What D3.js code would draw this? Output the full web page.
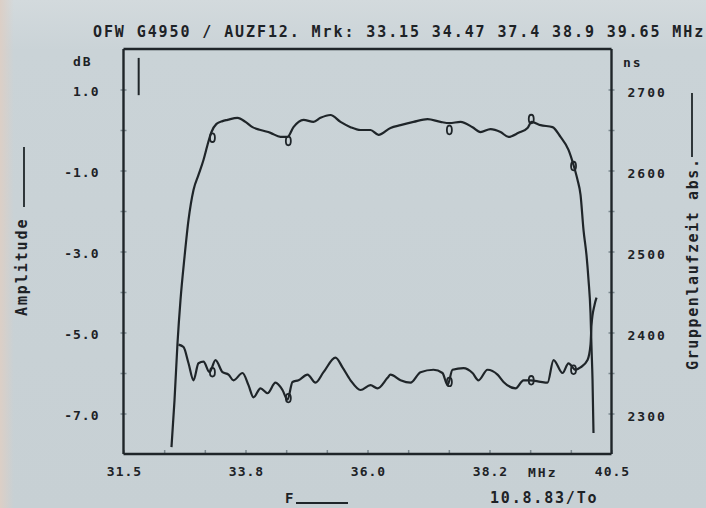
<!DOCTYPE html>
<html>
<head>
<meta charset="utf-8">
<script src="https://cdn.jsdelivr.net/npm/d3@7"></script>
<style>
  html, body { margin: 0; padding: 0; background: #cbd4d8; }
  svg { display: block; }
  text { font-family: "DejaVu Sans Mono", monospace; font-weight: bold; fill: #1d2226; }
</style>
</head>
<body>
<svg id="chart" width="706" height="508"></svg>
<script>
// ---- data ----
const titleText = "OFW G4950 / AUZF12. Mrk: 33.15 34.47 37.4 38.9 39.65 MHz";

const xTickValues = [31.5, 33.75, 36.0, 38.25, 40.5];
const xTickLabels = ["31.5", "33.8", "36.0", "38.2", "40.5"];
const xMinorTicks = [31.5, 32.25, 33.0, 33.75, 34.5, 35.25, 36.0, 36.75, 37.5, 38.25, 39.0, 39.75, 40.5];

const ampTickValues = [1, -1, -3, -5, -7];
const ampTickLabels = ["1.0", "-1.0", "-3.0", "-5.0", "-7.0"];
const ampMinorTicks = [1, 0, -1, -2, -3, -4, -5, -6, -7];

const gdTickValues = [2700, 2600, 2500, 2400, 2300];
const gdTickLabels = ["2700", "2600", "2500", "2400", "2300"];
const gdMinorTicks = [2700, 2650, 2600, 2550, 2500, 2450, 2400, 2350, 2300];

// amplitude response (MHz, dB)
const ampFreq = [32.385, 32.441, 32.496, 32.551, 32.625, 32.699, 32.791, 32.883, 32.975, 33.049,
  33.123, 33.215, 33.326, 33.418, 33.603, 33.750,
  33.879, 34.027, 34.211, 34.396, 34.525, 34.635, 34.820, 35.004, 35.133, 35.318,
  35.502, 35.687, 35.871, 36.055, 36.203, 36.424, 36.609, 36.849, 37.107, 37.346,
  37.513, 37.715, 37.937, 38.084, 38.269, 38.453, 38.601, 38.785, 38.951, 39.025,
  39.191, 39.412, 39.560, 39.707, 39.799, 39.873, 39.929, 39.984, 40.039, 40.076,
  40.113, 40.131, 40.150, 40.168];
const ampDb = [-7.83, -6.67, -5.26, -4.20, -3.14, -2.22, -1.48, -1.11, -0.74, -0.37,
  -0.05, 0.15, 0.22, 0.25, 0.30, 0.20,
  0.07, 0.00, -0.07, -0.17, -0.17, 0.07, 0.25, 0.20, 0.30, 0.37,
  0.20, 0.07, 0.00, 0.00, -0.12, 0.05, 0.12, 0.20, 0.27, 0.20,
  0.17, 0.20, 0.07, -0.05, 0.02, -0.05, -0.17, -0.07, 0.05, 0.20,
  0.12, 0.07, -0.17, -0.49, -0.86, -1.23, -1.60, -2.47, -3.09, -3.70,
  -4.52, -5.36, -6.17, -7.48];

// absolute group delay (MHz, ns)
const gdFreq = [32.514, 32.607, 32.699, 32.791, 32.883, 32.975, 33.086, 33.197, 33.326, 33.437,
  33.529, 33.695, 33.805, 33.898, 34.027, 34.156, 34.303, 34.432, 34.525, 34.617,
  34.728, 34.894, 35.041, 35.189, 35.410, 35.539, 35.687, 35.871, 36.055, 36.184,
  36.369, 36.424, 36.609, 36.793, 36.978, 37.217, 37.383, 37.476, 37.568, 37.771,
  37.937, 38.047, 38.213, 38.398, 38.509, 38.730, 38.877, 39.006, 39.191, 39.320,
  39.431, 39.597, 39.707, 39.836, 39.929, 40.058, 40.113, 40.131, 40.187, 40.224];
const gdNs = [2385, 2382, 2362, 2341, 2362, 2364, 2351, 2366, 2351, 2348,
  2341, 2350, 2335, 2320, 2331, 2325, 2338, 2329, 2317, 2339,
  2341, 2348, 2338, 2351, 2369, 2357, 2341, 2329, 2335, 2331,
  2344, 2348, 2341, 2338, 2351, 2354, 2350, 2335, 2354, 2356,
  2350, 2341, 2354, 2348, 2339, 2331, 2341, 2341, 2339, 2338,
  2366, 2350, 2362, 2354, 2357, 2366, 2385, 2409, 2434, 2443];

// frequency markers as drawn by the plotter
const markerFreq = [33.14, 34.54, 37.51, 39.02, 39.80];
const ampMarkerDb = [-0.19, -0.27, 0.0, 0.27, -0.89];
const gdMarkerNs = [2351, 2319, 2339, 2341, 2354];

// short pen mark at the top left of the plot
const penMarkFreq = [31.78, 31.78];
const penMarkDb = [1.78, 0.86];

// ---- drawing ----
const W = 706, H = 508;
const svg = d3.select("#chart");
const ink = "#1f2529";

const defs = svg.append("defs");
const grad = defs.append("linearGradient").attr("id", "paper")
  .attr("x1", "0").attr("y1", "0").attr("x2", "0").attr("y2", "1");
grad.append("stop").attr("offset", "0").attr("stop-color", "#d3dadd");
grad.append("stop").attr("offset", "0.1").attr("stop-color", "#cad3d7");
grad.append("stop").attr("offset", "1").attr("stop-color", "#c7d0d4");
svg.append("rect").attr("width", W).attr("height", H).attr("fill", "url(#paper)");
const gradL = defs.append("linearGradient").attr("id", "edge")
  .attr("x1", "0").attr("y1", "0").attr("x2", "1").attr("y2", "0");
gradL.append("stop").attr("offset", "0").attr("stop-color", "#dccfc6");
gradL.append("stop").attr("offset", "1").attr("stop-color", "#dccfc6").attr("stop-opacity", 0);
svg.append("rect").attr("width", 14).attr("height", H).attr("fill", "url(#edge)");

const x = d3.scaleLinear().domain([31.5, 40.5]).range([123.5, 611.5]);
const yAmp = d3.scaleLinear().domain([-8, 2]).range([454, 49]);
const yGd = d3.scaleLinear().domain([2250, 2750]).range([454, 49]);

const tickStroke = "#7d8a90";

// minor tick marks via d3 axes
const axL = svg.append("g").attr("transform", `translate(${x(31.5)},0)`)
  .call(d3.axisLeft(yAmp).tickValues(ampMinorTicks).tickSizeInner(-3).tickSizeOuter(0).tickFormat(""));
const axL2 = svg.append("g").attr("transform", `translate(${x(31.5)},0)`)
  .call(d3.axisLeft(yAmp).tickValues(ampMinorTicks).tickSizeInner(3).tickSizeOuter(0).tickFormat(""));
const axR = svg.append("g").attr("transform", `translate(${x(40.5)},0)`)
  .call(d3.axisRight(yGd).tickValues(gdMinorTicks).tickSizeInner(3).tickSizeOuter(0).tickFormat(""));
const axR2 = svg.append("g").attr("transform", `translate(${x(40.5)},0)`)
  .call(d3.axisRight(yGd).tickValues(gdMinorTicks).tickSizeInner(-3).tickSizeOuter(0).tickFormat(""));
const axB = svg.append("g").attr("transform", `translate(0,${yAmp(-8)})`)
  .call(d3.axisBottom(x).tickValues(xMinorTicks).tickSizeInner(-4).tickSizeOuter(0).tickFormat(""));
[axL, axL2, axR, axR2, axB].forEach(g => {
  g.select(".domain").remove();
  g.selectAll(".tick line").attr("stroke", tickStroke).attr("stroke-width", 1.5);
});

// frame
const frame = svg.append("g").attr("stroke", ink).attr("stroke-width", 2.4).attr("fill", "none");
frame.append("line").attr("x1", x(31.5)).attr("x2", x(31.5)).attr("y1", yAmp(2)).attr("y2", yAmp(-8));
frame.append("line").attr("x1", x(40.5)).attr("x2", x(40.5)).attr("y1", yAmp(2)).attr("y2", yAmp(-8));
frame.append("line").attr("x1", x(31.5)).attr("x2", x(40.5)).attr("y1", yAmp(2)).attr("y2", yAmp(2));
frame.append("line").attr("x1", x(31.5)).attr("x2", x(40.5)).attr("y1", yAmp(-8)).attr("y2", yAmp(-8));

// tick labels
const lbl = svg.append("g").style("font-size", "13px").style("letter-spacing", "1px");
lbl.selectAll(".al").data(ampTickValues).join("text")
  .attr("x", x(31.5) - 24).attr("y", d => yAmp(d) + 6)
  .attr("text-anchor", "end").text((d, i) => ampTickLabels[i]);
lbl.selectAll(".gl").data(gdTickValues).join("text")
  .attr("x", x(40.5) + 16).attr("y", d => yGd(d) + 7)
  .style("letter-spacing", "2px").text((d, i) => gdTickLabels[i]);
lbl.selectAll(".xl").data(xTickValues).join("text")
  .attr("x", d => x(d) + 1).attr("y", 476)
  .attr("text-anchor", "middle").text((d, i) => xTickLabels[i]);
lbl.append("text").attr("x", 73).attr("y", 66).style("letter-spacing", "2px").text("dB");
lbl.append("text").attr("x", 623).attr("y", 67).style("letter-spacing", "2px").text("ns");
lbl.append("text").attr("x", 528).attr("y", 477).style("letter-spacing", "2px").text("MHz");

// title
svg.append("text").attr("x", 93).attr("y", 37)
  .style("font-size", "15px").style("letter-spacing", "1.9px").text(titleText);

// date
svg.append("text").attr("x", 490).attr("y", 503)
  .style("font-size", "15px").style("letter-spacing", "1.8px").text("10.8.83/To");

// frequency axis caption with arrow line
svg.append("text").attr("x", 285).attr("y", 503).style("font-size", "14px").text("F");
svg.append("line").attr("x1", 296).attr("x2", 348).attr("y1", 503).attr("y2", 503)
  .attr("stroke", ink).attr("stroke-width", 2);

// rotated axis titles
svg.append("text").attr("transform", "translate(27,316) rotate(-90)")
  .style("font-size", "15px").style("letter-spacing", "1.9px").text("Amplitude");
svg.append("line").attr("x1", 24).attr("x2", 24).attr("y1", 147).attr("y2", 207)
  .attr("stroke", ink).attr("stroke-width", 1.8);
svg.append("text").attr("transform", "translate(698,370) rotate(-90)")
  .style("font-size", "15px").style("letter-spacing", "1.6px").text("Gruppenlaufzeit abs.");
svg.append("line").attr("x1", 692).attr("x2", 692).attr("y1", 93).attr("y2", 157)
  .attr("stroke", ink).attr("stroke-width", 1.8);

// curves
const lineAmp = d3.line().x((d, i) => x(ampFreq[i])).y((d, i) => yAmp(ampDb[i]))
  .curve(d3.curveMonotoneX);
const lineGd = d3.line().x((d, i) => x(gdFreq[i])).y((d, i) => yGd(gdNs[i]))
  .curve(d3.curveMonotoneX);

svg.append("path").attr("d", lineAmp(ampDb)).attr("fill", "none")
  .attr("stroke", ink).attr("stroke-width", 2.2).attr("stroke-linejoin", "round");
svg.append("path").attr("d", lineGd(gdNs)).attr("fill", "none")
  .attr("stroke", ink).attr("stroke-width", 2.2).attr("stroke-linejoin", "round");

// markers
svg.selectAll(".am").data(markerFreq).join("ellipse")
  .attr("cx", d => x(d)).attr("cy", (d, i) => yAmp(ampMarkerDb[i]))
  .attr("rx", 2.5).attr("ry", 4.3).attr("fill", "none").attr("stroke", ink).attr("stroke-width", 1.8);
svg.selectAll(".gm").data(markerFreq).join("ellipse")
  .attr("cx", d => x(d)).attr("cy", (d, i) => yGd(gdMarkerNs[i]))
  .attr("rx", 2.5).attr("ry", 4.3).attr("fill", "none").attr("stroke", ink).attr("stroke-width", 1.8);

// pen mark
svg.append("path")
  .attr("d", d3.line().x((d, i) => x(penMarkFreq[i])).y((d, i) => yAmp(penMarkDb[i]))(penMarkDb))
  .attr("stroke", ink).attr("stroke-width", 2).attr("fill", "none");
</script>
</body>
</html>
